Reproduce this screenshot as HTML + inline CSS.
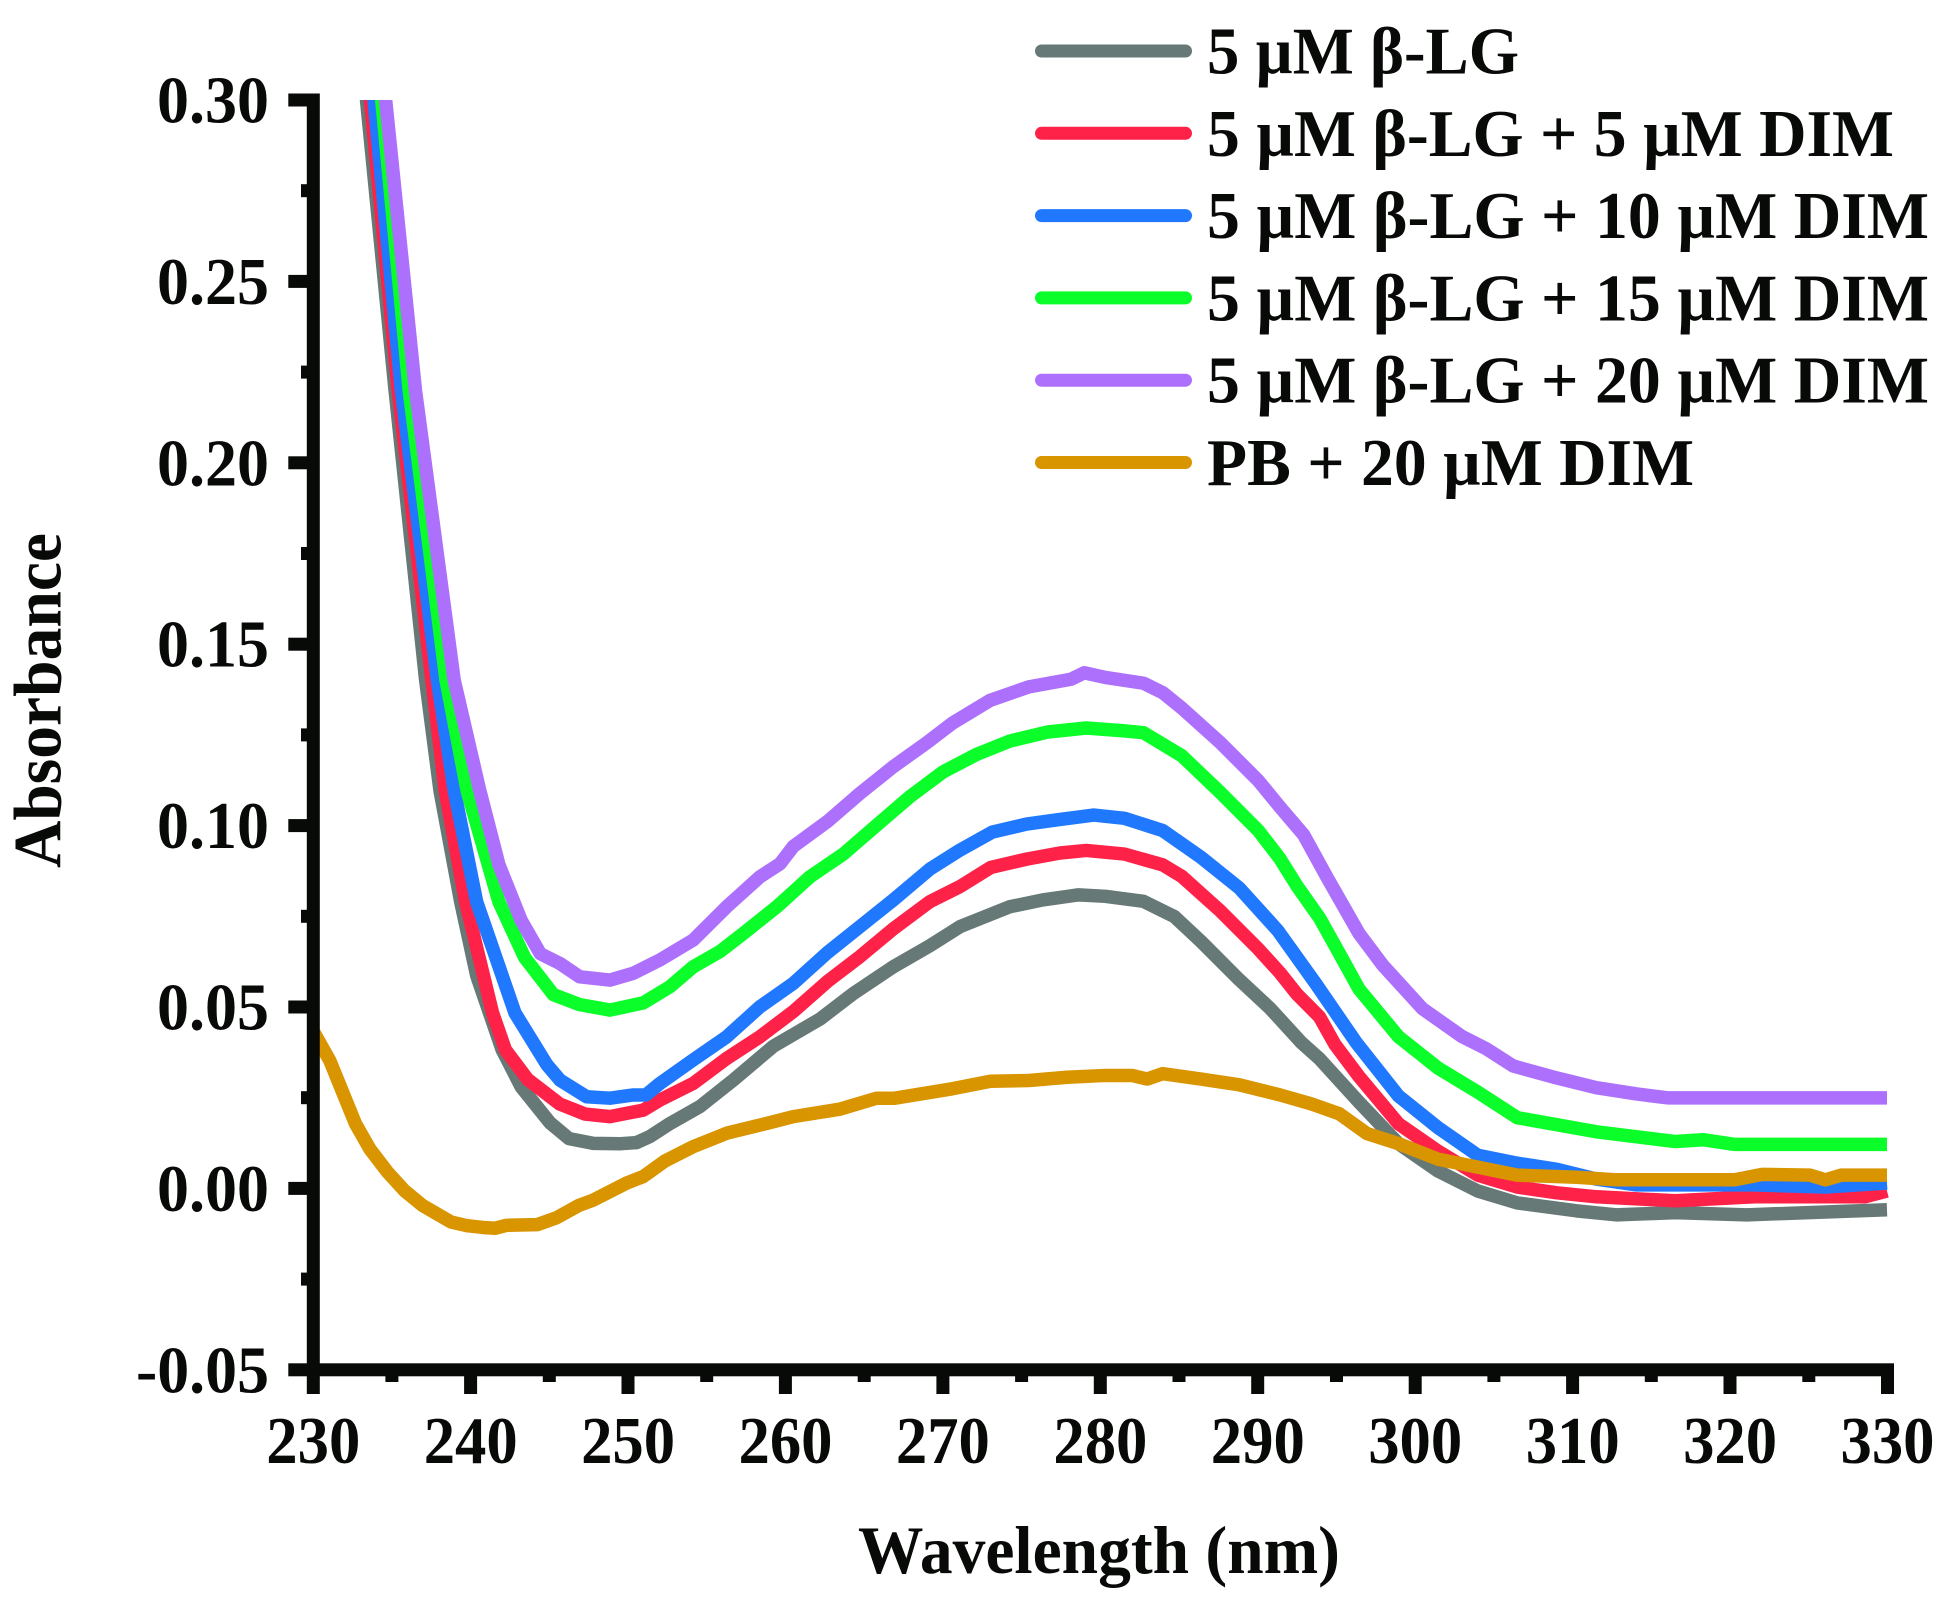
<!DOCTYPE html>
<html>
<head>
<meta charset="utf-8">
<style>
  html, body { margin: 0; padding: 0; background: #ffffff; }
  svg { display: block; }
  text { font-family: "Liberation Serif", "DejaVu Serif", serif; font-weight: bold; fill: #080a08; }
</style>
</head>
<body>
<svg width="1949" height="1610" viewBox="0 0 1949 1610" xmlns="http://www.w3.org/2000/svg">
  <rect x="0" y="0" width="1949" height="1610" fill="#ffffff"/>
  <defs>
    <clipPath id="plotclip">
      <rect x="313" y="100" width="1590" height="1270"/>
    </clipPath>
  </defs>

  <!-- Curves -->
  <g clip-path="url(#plotclip)">
    <g transform="matrix(15.68,0,0,-3611.4,-3292.9,1183.42)" fill="none" stroke-linejoin="round" stroke-linecap="butt">
      <!-- gray -->
      <polyline vector-effect="non-scaling-stroke" stroke="#667976" stroke-width="13.5" points="
        233.0,0.32 233.38,0.30 235.2,0.2197 237.15,0.1394 238.07,0.1087 239.39,0.0779 240.41,0.0575 242.03,0.0370 243.25,0.0267 245.08,0.0168 246.3,0.0124 247.85,0.0111 249.6,0.0110 250.6,0.0113 251.46,0.0130 252.74,0.0166 254.65,0.0213 256.77,0.0286 259.33,0.0380 262.3,0.0455 264.43,0.0526 266.98,0.0600 269.3,0.0658 271.23,0.0711 274.4,0.0766 276.5,0.0785 278.79,0.0799 280.5,0.0795 282.94,0.0781 284.9,0.0739 286.6,0.0670 289.04,0.0564 291.0,0.0485 293.0,0.0390 294.16,0.0345 296.68,0.0225 299.2,0.0110 301.73,0.0034 304.25,-0.0021 306.77,-0.0054 310.55,-0.0076 313.07,-0.0087 316.85,-0.0081 321.4,-0.0087 330.35,-0.0073"/>
      <!-- red -->
      <polyline vector-effect="non-scaling-stroke" stroke="#fe2249" stroke-width="13.5" points="
        233.25,0.32 233.63,0.30 235.4,0.2197 237.55,0.1394 238.4,0.1087 239.7,0.0779 241.42,0.0472 242.24,0.0370 243.66,0.0288 245.7,0.0220 247.32,0.0192 248.9,0.0185 251.03,0.0203 252.1,0.0231 254.22,0.0277 256.35,0.0346 258.47,0.0406 260.6,0.0476 262.8,0.0560 264.85,0.0628 266.98,0.0705 269.3,0.0780 271.23,0.0822 273.2,0.0875 275.48,0.0898 277.61,0.0915 279.28,0.0922 281.72,0.0912 284.16,0.0882 285.38,0.0850 287.82,0.0755 290.26,0.0649 291.64,0.0583 292.7,0.0525 294.16,0.0461 295.14,0.0385 296.68,0.0296 299.2,0.0165 301.73,0.0089 304.25,0.0023 306.77,-0.0010 309.29,-0.0026 311.81,-0.0037 316.85,-0.0048 321.9,-0.0037 328.96,-0.0037 330.35,-0.0021"/>
      <!-- blue -->
      <polyline vector-effect="non-scaling-stroke" stroke="#1f78fe" stroke-width="13.5" points="
        233.48,0.32 233.86,0.30 235.6,0.2197 237.9,0.1394 238.98,0.1087 240.41,0.0779 242.85,0.0472 244.88,0.0329 245.72,0.0286 247.42,0.0240 248.9,0.0236 250.4,0.0245 251.2,0.0245 252.1,0.0277 254.22,0.0342 256.35,0.0406 258.47,0.0489 260.6,0.0554 262.8,0.0640 264.85,0.0711 266.98,0.0785 269.3,0.0870 271.23,0.0923 273.3,0.0973 275.48,0.0995 277.61,0.1008 279.76,0.1020 281.72,0.1011 284.16,0.0977 286.6,0.0903 289.04,0.0818 291.5,0.0700 293.92,0.0553 296.5,0.0390 299.2,0.0242 301.73,0.0154 304.25,0.0078 306.77,0.0056 309.29,0.0039 311.81,0.0012 314.33,-0.0004 321.9,-0.0004 326.4,-0.0010 330.35,0.0001"/>
      <!-- green -->
      <polyline vector-effect="non-scaling-stroke" stroke="#0bfd2a" stroke-width="13.5" points="
        233.95,0.32 234.35,0.30 236.1,0.2197 238.45,0.1394 239.8,0.1087 241.83,0.0779 243.46,0.0626 245.29,0.0523 246.98,0.0495 248.91,0.0480 251.03,0.0500 252.74,0.0545 254.22,0.0600 255.92,0.0642 257.41,0.0692 259.6,0.0768 261.66,0.0849 263.79,0.0912 265.92,0.0992 268.04,0.1071 270.17,0.1140 272.29,0.1188 274.42,0.1225 276.84,0.1250 279.28,0.1261 281.72,0.1253 282.94,0.1248 285.38,0.1184 287.82,0.1083 290.26,0.0977 291.64,0.0899 292.7,0.0825 294.16,0.0735 295.14,0.0659 296.68,0.0538 299.2,0.0406 301.73,0.0319 304.25,0.0253 306.77,0.0182 311.81,0.0143 316.85,0.0116 318.62,0.0121 320.64,0.0108 330.35,0.0108"/>
      <!-- purple -->
      <polyline vector-effect="non-scaling-stroke" stroke="#ad70fc" stroke-width="13.5" points="
        234.2,0.32 234.6,0.30 236.5,0.2197 238.97,0.1394 240.61,0.1087 241.83,0.0882 243.25,0.0728 244.47,0.0636 245.72,0.0609 246.98,0.0572 248.9,0.0563 250.4,0.0582 252.1,0.0619 254.22,0.0674 256.35,0.0766 258.47,0.0849 259.75,0.0885 260.6,0.0933 262.8,0.1003 264.85,0.1080 266.98,0.1154 269.1,0.1220 270.73,0.1274 273.17,0.1338 275.62,0.1375 278.3,0.1396 279.15,0.1414 280.5,0.1401 282.94,0.1385 284.16,0.1359 285.38,0.1316 287.82,0.1221 290.26,0.1115 291.64,0.1042 293.15,0.0965 294.67,0.0845 296.68,0.0692 298.2,0.0604 300.72,0.0484 303.24,0.0407 304.75,0.0374 306.52,0.0325 309.29,0.0292 311.81,0.0265 314.33,0.0248 316.35,0.0237 330.35,0.0237"/>
      <!-- orange -->
      <polyline vector-effect="non-scaling-stroke" stroke="#d99500" stroke-width="13.5" points="
        230,0.042 231.05,0.0339 231.93,0.0245 232.68,0.0165 233.6,0.0095 234.71,0.0032 235.8,-0.0020 236.95,-0.0061 238.78,-0.0107 239.8,-0.0117 240.81,-0.0122 241.6,-0.0124 242.3,-0.0116 244.27,-0.0114 245.5,-0.0095 246.92,-0.0061 247.85,-0.0046 249.97,0.0001 251.03,0.0019 252.41,0.0062 254.22,0.0102 256.35,0.0139 258.9,0.0166 260.6,0.0185 263.6,0.0206 265.92,0.0236 267.07,0.0236 270.73,0.0262 273.17,0.0283 275.62,0.0285 278.06,0.0294 280.5,0.0299 282.2,0.0299 283.18,0.0289 284.16,0.0304 286.6,0.0289 289.04,0.0273 291.64,0.0245 293.66,0.0220 295.42,0.0193 297.19,0.0138 299.2,0.0110 301.73,0.0067 304.25,0.0045 306.77,0.0023 310.55,0.0017 313.07,0.0010 320.64,0.0010 322.4,0.0025 325.43,0.0023 326.43,0.0010 327.44,0.0023 330.35,0.0023"/>
    </g>
  </g>

  <!-- Axes -->
  <g fill="#080a08">
    <rect x="306.8" y="93.5" width="13" height="1300.5"/>
    <rect x="306.8" y="1363.3" width="1587.2" height="13"/>

    <rect x="288.3" y="93.5" width="19" height="13"/>
    <rect x="288.3" y="274.9" width="19" height="13"/>
    <rect x="288.3" y="456.3" width="19" height="13"/>
    <rect x="288.3" y="637.7" width="19" height="13"/>
    <rect x="288.3" y="819.1" width="19" height="13"/>
    <rect x="288.3" y="1000.5" width="19" height="13"/>
    <rect x="288.3" y="1181.9" width="19" height="13"/>
    <rect x="288.3" y="1363.3" width="19" height="13"/>
    <rect x="301" y="184.2" width="6" height="13"/>
    <rect x="301" y="365.6" width="6" height="13"/>
    <rect x="301" y="547" width="6" height="13"/>
    <rect x="301" y="728.4" width="6" height="13"/>
    <rect x="301" y="909.8" width="6" height="13"/>
    <rect x="301" y="1091.2" width="6" height="13"/>
    <rect x="301" y="1272.6" width="6" height="13"/>

    <rect x="464.1" y="1376" width="13" height="18"/>
    <rect x="621.5" y="1376" width="13" height="18"/>
    <rect x="778.9" y="1376" width="13" height="18"/>
    <rect x="936.4" y="1376" width="13" height="18"/>
    <rect x="1093.8" y="1376" width="13" height="18"/>
    <rect x="1251.2" y="1376" width="13" height="18"/>
    <rect x="1408.7" y="1376" width="13" height="18"/>
    <rect x="1566.1" y="1376" width="13" height="18"/>
    <rect x="1723.5" y="1376" width="13" height="18"/>
    <rect x="1881" y="1376" width="13" height="18"/>
    <rect x="385.4" y="1376" width="13" height="6"/>
    <rect x="542.8" y="1376" width="13" height="6"/>
    <rect x="700.2" y="1376" width="13" height="6"/>
    <rect x="857.7" y="1376" width="13" height="6"/>
    <rect x="1015.1" y="1376" width="13" height="6"/>
    <rect x="1172.5" y="1376" width="13" height="6"/>
    <rect x="1330" y="1376" width="13" height="6"/>
    <rect x="1487.4" y="1376" width="13" height="6"/>
    <rect x="1644.8" y="1376" width="13" height="6"/>
    <rect x="1802.3" y="1376" width="13" height="6"/>
  </g>

  <!-- Y tick labels -->
  <g font-size="67" text-anchor="end">
    <text x="269" y="122.5" textLength="112" lengthAdjust="spacingAndGlyphs">0.30</text>
    <text x="269" y="303.9" textLength="112" lengthAdjust="spacingAndGlyphs">0.25</text>
    <text x="269" y="485.3" textLength="112" lengthAdjust="spacingAndGlyphs">0.20</text>
    <text x="269" y="666.7" textLength="112" lengthAdjust="spacingAndGlyphs">0.15</text>
    <text x="269" y="848.1" textLength="112" lengthAdjust="spacingAndGlyphs">0.10</text>
    <text x="269" y="1029.5" textLength="112" lengthAdjust="spacingAndGlyphs">0.05</text>
    <text x="269" y="1210.9" textLength="112" lengthAdjust="spacingAndGlyphs">0.00</text>
    <text x="269" y="1392.3" textLength="133" lengthAdjust="spacingAndGlyphs">-0.05</text>
  </g>

  <!-- X tick labels -->
  <g font-size="67" text-anchor="middle">
    <text x="313.3" y="1463" textLength="94" lengthAdjust="spacingAndGlyphs">230</text>
    <text x="470.7" y="1463" textLength="94" lengthAdjust="spacingAndGlyphs">240</text>
    <text x="628.1" y="1463" textLength="94" lengthAdjust="spacingAndGlyphs">250</text>
    <text x="785.5" y="1463" textLength="94" lengthAdjust="spacingAndGlyphs">260</text>
    <text x="942.9" y="1463" textLength="94" lengthAdjust="spacingAndGlyphs">270</text>
    <text x="1100.4" y="1463" textLength="94" lengthAdjust="spacingAndGlyphs">280</text>
    <text x="1257.8" y="1463" textLength="94" lengthAdjust="spacingAndGlyphs">290</text>
    <text x="1415.2" y="1463" textLength="94" lengthAdjust="spacingAndGlyphs">300</text>
    <text x="1572.7" y="1463" textLength="94" lengthAdjust="spacingAndGlyphs">310</text>
    <text x="1730.1" y="1463" textLength="94" lengthAdjust="spacingAndGlyphs">320</text>
    <text x="1887.5" y="1463" textLength="94" lengthAdjust="spacingAndGlyphs">330</text>
  </g>

  <!-- Axis titles -->
  <text x="1099" y="1573" font-size="68" text-anchor="middle" textLength="482" lengthAdjust="spacingAndGlyphs">Wavelength (nm)</text>
  <text transform="translate(60.7,700.5) rotate(-90)" x="0" y="0" font-size="68" text-anchor="middle" textLength="335" lengthAdjust="spacingAndGlyphs">Absorbance</text>

  <!-- Legend -->
  <g stroke-width="13" stroke-linecap="round" fill="none">
    <line x1="1041.5" y1="51" x2="1185.5" y2="51" stroke="#667976"/>
    <line x1="1041.5" y1="133.3" x2="1185.5" y2="133.3" stroke="#fe2249"/>
    <line x1="1041.5" y1="215.6" x2="1185.5" y2="215.6" stroke="#1f78fe"/>
    <line x1="1041.5" y1="297.9" x2="1185.5" y2="297.9" stroke="#0bfd2a"/>
    <line x1="1041.5" y1="380.2" x2="1185.5" y2="380.2" stroke="#ad70fc"/>
    <line x1="1041.5" y1="462.5" x2="1185.5" y2="462.5" stroke="#d99500"/>
  </g>
  <g font-size="67">
    <text x="1207" y="73.5" textLength="312" lengthAdjust="spacingAndGlyphs">5 µM β-LG</text>
    <text x="1207" y="155.8" textLength="687" lengthAdjust="spacingAndGlyphs">5 µM β-LG + 5 µM DIM</text>
    <text x="1207" y="238.1" textLength="722" lengthAdjust="spacingAndGlyphs">5 µM β-LG + 10 µM DIM</text>
    <text x="1207" y="320.4" textLength="722" lengthAdjust="spacingAndGlyphs">5 µM β-LG + 15 µM DIM</text>
    <text x="1207" y="402.7" textLength="722" lengthAdjust="spacingAndGlyphs">5 µM β-LG + 20 µM DIM</text>
    <text x="1207" y="485" textLength="487" lengthAdjust="spacingAndGlyphs">PB + 20 µM DIM</text>
  </g>
</svg>
</body>
</html>
